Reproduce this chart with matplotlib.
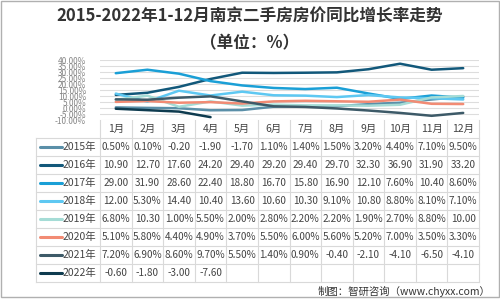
import matplotlib
matplotlib.use("Agg")
import matplotlib.pyplot as plt
from matplotlib.patches import Rectangle

plt.rcParams['font.family'] = ['Noto Sans CJK SC', 'DejaVu Sans']

title = "2015-2022年1-12月南京二手房房价同比增长率走势\n（单位：%）"
months = ["1月", "2月", "3月", "4月", "5月", "6月", "7月", "8月", "9月", "10月", "11月", "12月"]
series_names = ["2015年", "2016年", "2017年", "2018年", "2019年", "2020年", "2021年", "2022年"]

y2015 = [0.5, 0.1, -0.2, -1.9, -1.7, 1.1, 1.4, 1.5, 3.2, 4.4, 7.1, 9.5]
y2016 = [10.9, 12.7, 17.6, 24.2, 29.4, 29.2, 29.4, 29.7, 32.3, 36.9, 31.9, 33.2]
y2017 = [29.0, 31.9, 28.6, 22.4, 18.8, 16.7, 15.8, 16.9, 12.1, 7.6, 10.4, 8.6]
y2018 = [12.0, 5.3, 14.4, 10.4, 13.6, 10.6, 10.3, 9.1, 10.8, 8.8, 8.1, 7.1]
y2019 = [6.8, 10.3, 1.0, 5.5, 2.0, 2.8, 2.2, 2.2, 1.9, 2.7, 8.8, 10.0]
y2020 = [5.1, 5.8, 4.4, 4.9, 3.7, 5.5, 6.0, 5.6, 5.2, 7.0, 3.5, 3.3]
y2021 = [7.2, 6.9, 8.6, 9.7, 5.5, 1.4, 0.9, -0.4, -2.1, -4.1, -6.5, -4.1]
y2022 = [-0.6, -1.8, -3.0, -7.6]
all_series = [y2015, y2016, y2017, y2018, y2019, y2020, y2021, y2022]

colors = ["#5a8fa8", "#12587a", "#1a9fd6", "#5ec8f2", "#a5dcd6", "#f28b74", "#3d5a68", "#0e3b4f"]
yticks = [-10, -5, 0, 5, 10, 15, 20, 25, 30, 35, 40]

W, H = 500, 300
fig = plt.figure(figsize=(5, 3), dpi=100)

# 表格 / 标题所用的像素坐标层
bg = fig.add_axes([0, 0, 1, 1])
bg.set_xlim(0, W)
bg.set_ylim(H, 0)
bg.axis("off")
bg.add_patch(Rectangle((1, 1), W - 2, H - 4, fill=False, edgecolor="#b0b0b0", lw=1))
bg.text(250, 30, title, ha="center", va="center", fontsize=12, fontweight="bold",
        color="#333333", linespacing=1.6)

# 折线图区域
x0, x1 = 100, 479
top, bottom = 60, 120
ax = fig.add_axes([x0 / W, 1 - bottom / H, (x1 - x0) / W, (bottom - top) / H])
for ys, c in zip(all_series, colors):
    ax.plot(range(len(ys)), ys, color=c, lw=1.8, solid_capstyle="round")
ax.set_xlim(-0.5, 11.5)
ax.set_ylim(-10, 40)
ax.set_yticks(yticks)
ax.set_yticklabels([f"{v:.2f}%" for v in yticks], fontsize=6, color="#888888")
ax.yaxis.grid(True, color="#dddddd", lw=0.8)
ax.set_axisbelow(True)
ax.set_xticks([])
ax.tick_params(axis="y", length=0, pad=10)
for s in ax.spines.values():
    s.set_visible(False)

# 数据表
col_w = (x1 - x0) / 12
row_h = 18
head_top = 120
grid_c = "#d9d9d9"
n_rows = len(series_names)
tab_bottom = head_top + row_h * (n_rows + 1)

for i in range(13):
    xx = x0 + i * col_w
    bg.plot([xx, xx], [head_top, tab_bottom], color=grid_c, lw=0.8)
bg.plot([36, 36], [head_top + row_h, tab_bottom], color=grid_c, lw=0.8)
for r in range(n_rows + 1):
    yy = head_top + row_h * (r + 1)
    bg.plot([36, x1], [yy, yy], color=grid_c, lw=0.8)

for i, m in enumerate(months):
    bg.text(x0 + (i + 0.5) * col_w, head_top + row_h / 2, m, ha="center", va="center",
            fontsize=7.5, color="#444444")


def fmt(v):
    if 0 <= v < 10:
        return f"{v:.2f}%"
    return f"{v:.2f}"


for r, (name, ys, c) in enumerate(zip(series_names, all_series, colors)):
    cy = head_top + row_h * (r + 1.5)
    bg.plot([40, 62], [cy, cy], color=c, lw=2.2, solid_capstyle="round")
    bg.text(63, cy, name, ha="left", va="center", fontsize=7.5, color="#444444")
    for i, v in enumerate(ys):
        bg.text(x0 + (i + 0.5) * col_w, cy, fmt(v), ha="center", va="center",
                fontsize=7.2, color="#444444")

bg.text(490, 291, "制图：智研咨询（www.chyxx.com）", ha="right", va="center",
        fontsize=7.5, color="#333333")

fig.savefig("out.png", dpi=100)
